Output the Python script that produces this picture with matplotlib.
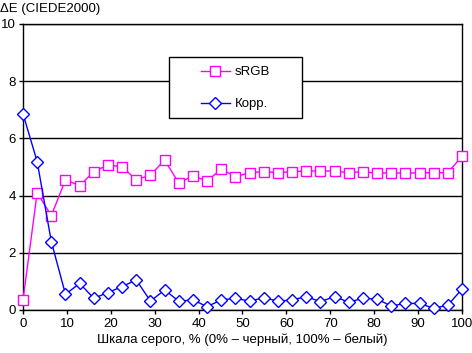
import matplotlib.pyplot as plt
import matplotlib.patches as mpatches
import numpy as np

plt.rcParams['font.family'] = ['Liberation Sans', 'DejaVu Sans']

# 32 grey levels, 0..100 %
x = np.arange(32) * 100 / 31

srgb = [0.35, 4.1, 3.3, 4.55, 4.35, 4.84, 5.07, 5.01, 4.55, 4.72, 5.24, 4.44,
        4.69, 4.51, 4.93, 4.66, 4.8, 4.84, 4.8, 4.84, 4.86, 4.86, 4.86, 4.8,
        4.84, 4.78, 4.8, 4.78, 4.8, 4.8, 4.8, 5.38]
korr = [6.86, 5.19, 2.39, 0.55, 0.93, 0.41, 0.61, 0.82, 1.05, 0.31, 0.7, 0.31,
        0.35, 0.12, 0.35, 0.41, 0.31, 0.43, 0.31, 0.35, 0.47, 0.29, 0.47, 0.27,
        0.41, 0.38, 0.14, 0.23, 0.23, 0.06, 0.17, 0.73]

fig = plt.figure(figsize=(4.72, 3.53), dpi=100)
ax = fig.add_axes([23/472, 1 - 310/353, 439/472, 286/353])

ax.plot(x, srgb, color='#FF00FF', lw=1, marker='s', ms=7, mfc='white',
        mec='#FF00FF', mew=1, label='sRGB', clip_on=False, zorder=3)
ax.plot(x, korr, color='#0000FF', lw=1, marker='D', ms=6, mfc='white',
        mec='#0000FF', mew=1, label='Корр.', clip_on=False, zorder=3)

ax.set_xlim(0, 100)
ax.set_ylim(0, 10)
ax.set_xticks(range(0, 101, 10))
ax.set_yticks(range(0, 11, 2))
ax.yaxis.grid(True, color='black', lw=1)
ax.set_axisbelow(True)
for s in ax.spines.values():
    s.set_linewidth(1)
ax.tick_params(labelsize=9.5, length=3, width=1, pad=3)
ax.tick_params(axis='y', pad=2)

ax.set_xlabel('Шкала серого, % (0% – черный, 100% – белый)', fontsize=9.5, labelpad=2)
fig.text(0.0, 1 - 9/353, 'ΔE (CIEDE2000)', fontsize=9.5, va='center', ha='left')

# legend box drawn separately, entries placed inside
box = mpatches.Rectangle((0.333, 0.671), 0.303, 0.214, transform=ax.transAxes,
                         facecolor='white', edgecolor='black', lw=1, zorder=4)
ax.add_patch(box)
leg = ax.legend(loc='center left', bbox_to_anchor=(0.405, 0.776), frameon=False,
                fontsize=9.5, borderpad=0, labelspacing=1.5, handlelength=2.2,
                handletextpad=0.35, borderaxespad=0)
leg.set_zorder(5)

fig.savefig('out.png', dpi=100)
